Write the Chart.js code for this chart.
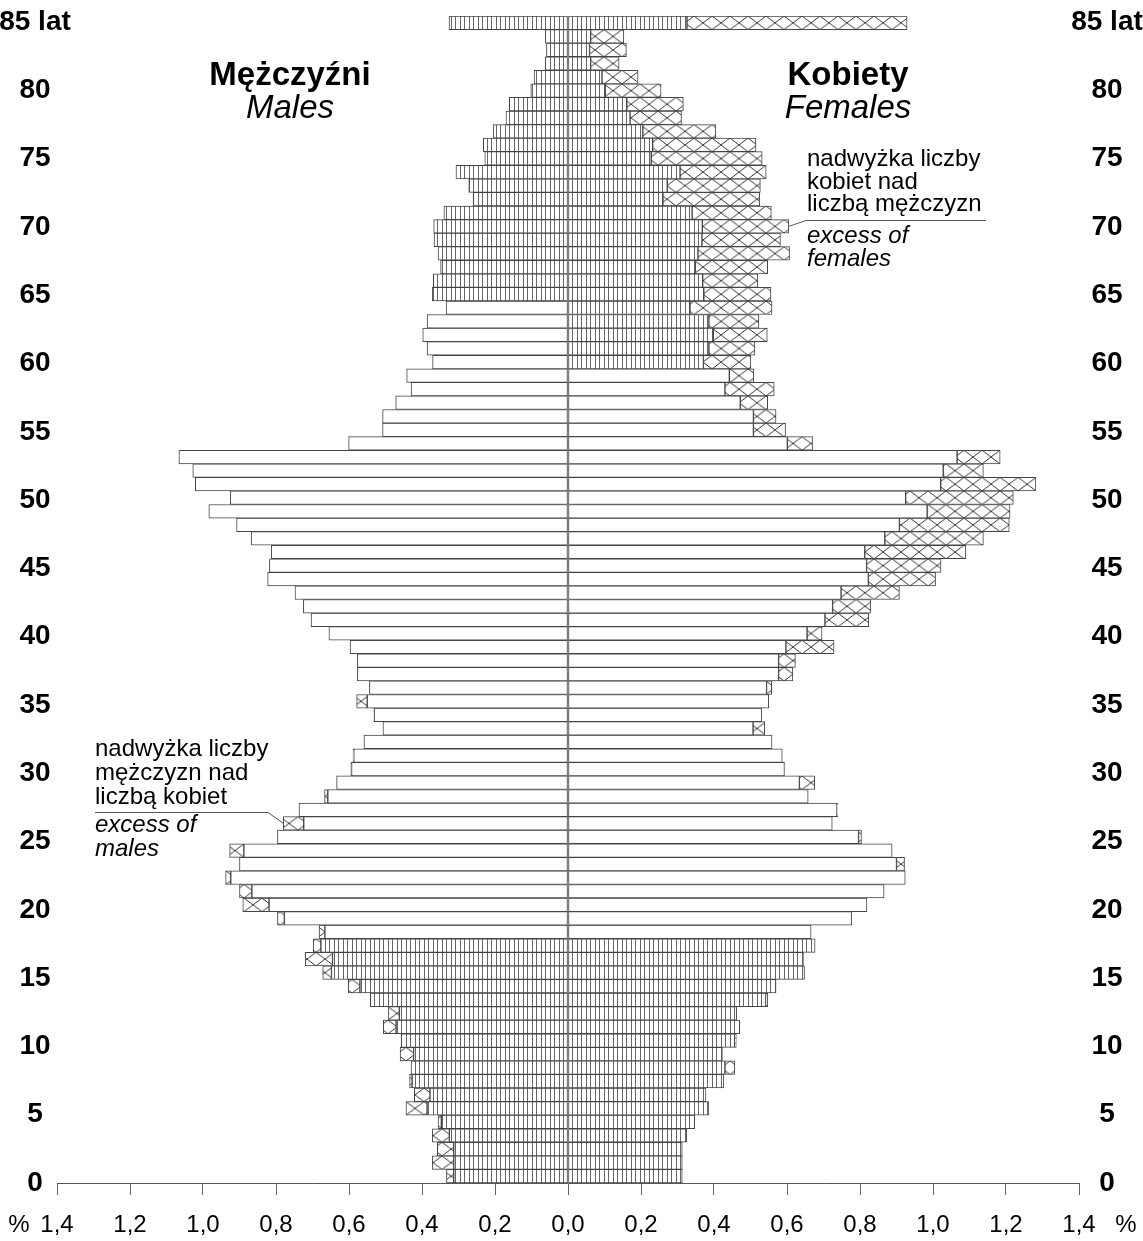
<!DOCTYPE html>
<html lang="pl">
<head>
<meta charset="utf-8">
<title>Piramida wieku</title>
<script src="https://cdn.jsdelivr.net/npm/chart.js@4.4.1/dist/chart.umd.min.js"></script>
<style>
  html, body { margin: 0; padding: 0; background: #fff; }
  canvas { display: block; }
</style>
</head>
<body>
<canvas id="pyramid" width="1143" height="1241"></canvas>
<script>
// age groups, 85 = 85 and more
const ages = [0, 1, 2, 3, 4, 5, 6, 7, 8, 9, 10, 11, 12, 13, 14, 15, 16, 17, 18, 19,
  20, 21, 22, 23, 24, 25, 26, 27, 28, 29, 30, 31, 32, 33, 34, 35, 36, 37, 38, 39,
  40, 41, 42, 43, 44, 45, 46, 47, 48, 49, 50, 51, 52, 53, 54, 55, 56, 57, 58, 59,
  60, 61, 62, 63, 64, 65, 66, 67, 68, 69, 70, 71, 72, 73, 74, 75, 76, 77, 78, 79,
  80, 81, 82, 83, 84, 85];

// labelled ages on both side axes
const ageTicks = [0, 5, 10, 15, 20, 25, 30, 35, 40, 45, 50, 55, 60, 65, 70, 75, 80, 85];

// share of total population, %
const male = [0.333, 0.372, 0.358, 0.372, 0.356, 0.444, 0.421, 0.434, 0.430, 0.460,
  0.457, 0.506, 0.492, 0.542, 0.602, 0.672, 0.720, 0.698, 0.682, 0.796,
  0.891, 0.900, 0.938, 0.900, 0.927, 0.796, 0.780, 0.737, 0.667, 0.634,
  0.595, 0.589, 0.559, 0.507, 0.532, 0.579, 0.544, 0.577, 0.577, 0.597,
  0.655, 0.704, 0.725, 0.748, 0.823, 0.818, 0.813, 0.868, 0.908, 0.984,
  0.925, 1.021, 1.028, 1.066, 0.601, 0.508, 0.508, 0.472, 0.430, 0.442,
  0.371, 0.386, 0.398, 0.386, 0.334, 0.372, 0.369, 0.349, 0.356, 0.367,
  0.368, 0.340, 0.260, 0.272, 0.307, 0.228, 0.232, 0.205, 0.170, 0.161,
  0.102, 0.093, 0.062, 0.059, 0.062, 0.326];

const female = [0.313, 0.313, 0.313, 0.325, 0.347, 0.386, 0.378, 0.427, 0.457, 0.423,
  0.461, 0.471, 0.462, 0.547, 0.570, 0.648, 0.645, 0.677, 0.666, 0.777,
  0.819, 0.866, 0.924, 0.922, 0.888, 0.804, 0.724, 0.739, 0.658, 0.676,
  0.593, 0.587, 0.559, 0.539, 0.531, 0.550, 0.558, 0.616, 0.623, 0.729,
  0.696, 0.824, 0.829, 0.908, 1.007, 1.022, 1.090, 1.138, 1.209, 1.211,
  1.220, 1.282, 1.138, 1.184, 0.670, 0.596, 0.570, 0.547, 0.565, 0.509,
  0.501, 0.512, 0.546, 0.523, 0.559, 0.556, 0.520, 0.547, 0.607, 0.582,
  0.605, 0.557, 0.525, 0.527, 0.543, 0.532, 0.515, 0.405, 0.311, 0.316,
  0.255, 0.192, 0.140, 0.160, 0.153, 0.929];

const FONT = '"Liberation Sans", Arial, sans-serif';
const LINE = '#444';

// vertical stripes = pre- and post-working age
const stripe = (() => {
  const c = document.createElement('canvas');
  c.width = 9; c.height = 4;
  const g = c.getContext('2d');
  g.fillStyle = '#fff';
  g.fillRect(0, 0, 9, 4);
  g.fillStyle = '#666';
  g.fillRect(0, 0, 1, 4);
  g.fillRect(4, 0, 1, 4);
  return g.createPattern(c, 'repeat');
})();

// crosses = excess of one sex over the other
const cross = (() => {
  const c = document.createElement('canvas');
  c.width = 18; c.height = 14;
  const g = c.getContext('2d');
  g.fillStyle = '#fff';
  g.fillRect(0, 0, 18, 14);
  g.strokeStyle = '#333';
  g.lineWidth = 1;
  g.beginPath();
  g.moveTo(0, 0); g.lineTo(18, 14);
  g.moveTo(0, 14); g.lineTo(18, 0);
  g.stroke();
  return g.createPattern(c, 'repeat');
})();

const shared = ages.map((a, i) => Math.min(male[i], female[i]));
const maleExtra = ages.map((a, i) => male[i] > female[i] ? male[i] - female[i] : null);
const femaleExtra = ages.map((a, i) => female[i] > male[i] ? female[i] - male[i] : null);

const maleFill = ages.map(a => (a < 18 || a >= 65) ? stripe : '#fff');
const femaleFill = ages.map(a => (a < 18 || a >= 60) ? stripe : '#fff');

const barStyle = {
  borderColor: LINE,
  borderWidth: 1,
  borderSkipped: false,
  barPercentage: 1,
  categoryPercentage: 1,
  xAxisID: 'x',
  yAxisID: 'y'
};

const decorations = {
  id: 'decorations',
  beforeDatasetsDraw(chart) {
    const xs = chart.scales.x, ys = chart.scales.y;
    const h = (ys.bottom - ys.top) / ages.length;
    const x0 = xs.getPixelForValue(0);
    cross.setTransform(new DOMMatrix().translate(x0, ys.top).scale(1, h / 14));
    stripe.setTransform(new DOMMatrix().translate(x0, 0));
  },
  afterDraw(chart) {
    const ctx = chart.ctx;
    const xs = chart.scales.x, ys = chart.scales.y;
    const yl = chart.scales.yl, yr = chart.scales.yr;
    ctx.save();
    ctx.fillStyle = '#000';

    // age labels, placed by the side axes
    ctx.textAlign = 'center';
    ctx.textBaseline = 'middle';
    ctx.font = `bold 28px ${FONT}`;
    ageTicks.forEach(v => {
      const txt = v === 85 ? '85 lat' : String(v);
      ctx.fillText(txt, yl.left + 35, yl.getPixelForValue(v));
      ctx.fillText(txt, yr.left + 28, yr.getPixelForValue(v));
    });

    // headings
    ctx.textBaseline = 'alphabetic';
    ctx.font = `bold 33px ${FONT}`;
    ctx.fillText('Mężczyźni', 290, 85);
    ctx.fillText('Kobiety', 848, 85);
    ctx.font = `italic 33px ${FONT}`;
    ctx.fillText('Males', 290, 118);
    ctx.fillText('Females', 848, 118);

    // percent signs at the axis ends
    ctx.font = `24px ${FONT}`;
    ctx.textBaseline = 'middle';
    ctx.fillText('%', xs.left - 38, 1225);
    ctx.fillText('%', xs.right + 47, 1225);

    // notes
    ctx.textAlign = 'left';
    ctx.textBaseline = 'alphabetic';
    ctx.font = `24px ${FONT}`;
    ctx.fillText('nadwyżka liczby', 807, 166);
    ctx.fillText('kobiet nad', 807, 189);
    ctx.fillText('liczbą mężczyzn', 807, 211);
    ctx.fillText('nadwyżka liczby', 95, 756);
    ctx.fillText('mężczyzn nad', 95, 780);
    ctx.fillText('liczbą kobiet', 95, 804);
    ctx.font = `italic 24px ${FONT}`;
    ctx.fillText('excess of', 807, 243);
    ctx.fillText('females', 807, 266);
    ctx.fillText('excess of', 95, 832);
    ctx.fillText('males', 95, 856);

    // leader lines
    ctx.strokeStyle = '#555';
    ctx.lineWidth = 1;
    ctx.beginPath();
    ctx.moveTo(986, 220.5);
    ctx.lineTo(806, 220.5);
    ctx.lineTo(xs.getPixelForValue(female[70]), ys.getPixelForValue(70));
    ctx.moveTo(95, 812.5);
    ctx.lineTo(268, 812.5);
    ctx.lineTo(xs.getPixelForValue(-male[26]), ys.getPixelForValue(26));
    ctx.stroke();
    ctx.restore();
  }
};

const ageAxis = (position, width) => ({
  type: 'linear',
  position: position,
  min: 0,
  max: 85.45,
  offset: false,
  bounds: 'data',
  grid: { display: false, drawTicks: false },
  border: { display: false },
  ticks: { display: false },
  afterBuildTicks(s) { s.ticks = ageTicks.map(v => ({ value: v })); },
  afterFit(s) { s.width = width; }
});

new Chart(document.getElementById('pyramid'), {
  type: 'bar',
  data: {
    labels: ages,
    datasets: [
      Object.assign({ label: 'Mężczyźni', data: shared.map(v => -v), backgroundColor: maleFill }, barStyle),
      Object.assign({ label: 'Nadwyżka mężczyzn', data: maleExtra.map(v => v === null ? null : -v), backgroundColor: cross }, barStyle),
      Object.assign({ label: 'Kobiety', data: shared, backgroundColor: femaleFill }, barStyle),
      Object.assign({ label: 'Nadwyżka kobiet', data: femaleExtra, backgroundColor: cross }, barStyle)
    ]
  },
  options: {
    indexAxis: 'y',
    responsive: false,
    devicePixelRatio: 1,
    animation: false,
    layout: { padding: { top: 16, left: 0, right: 0, bottom: 0 } },
    plugins: {
      legend: { display: false },
      tooltip: { enabled: false }
    },
    scales: {
      x: {
        type: 'linear',
        stacked: true,
        min: -1.4,
        max: 1.4,
        grid: { drawOnChartArea: false, drawTicks: true, tickLength: 12, color: '#666' },
        border: { display: true, color: '#555' },
        ticks: {
          stepSize: 0.2,
          autoSkip: false,
          maxRotation: 0,
          padding: 16,
          color: '#000',
          font: { family: FONT, size: 24 },
          callback: v => Math.abs(v).toFixed(1).replace('.', ',')
        },
        afterFit(s) { s.height = 58; }
      },
      y: {
        type: 'category',
        stacked: true,
        reverse: true,
        offset: true,
        display: false
      },
      yl: ageAxis('left', 57),
      yr: ageAxis('right', 64)
    }
  },
  plugins: [decorations]
});
</script>
</body>
</html>
